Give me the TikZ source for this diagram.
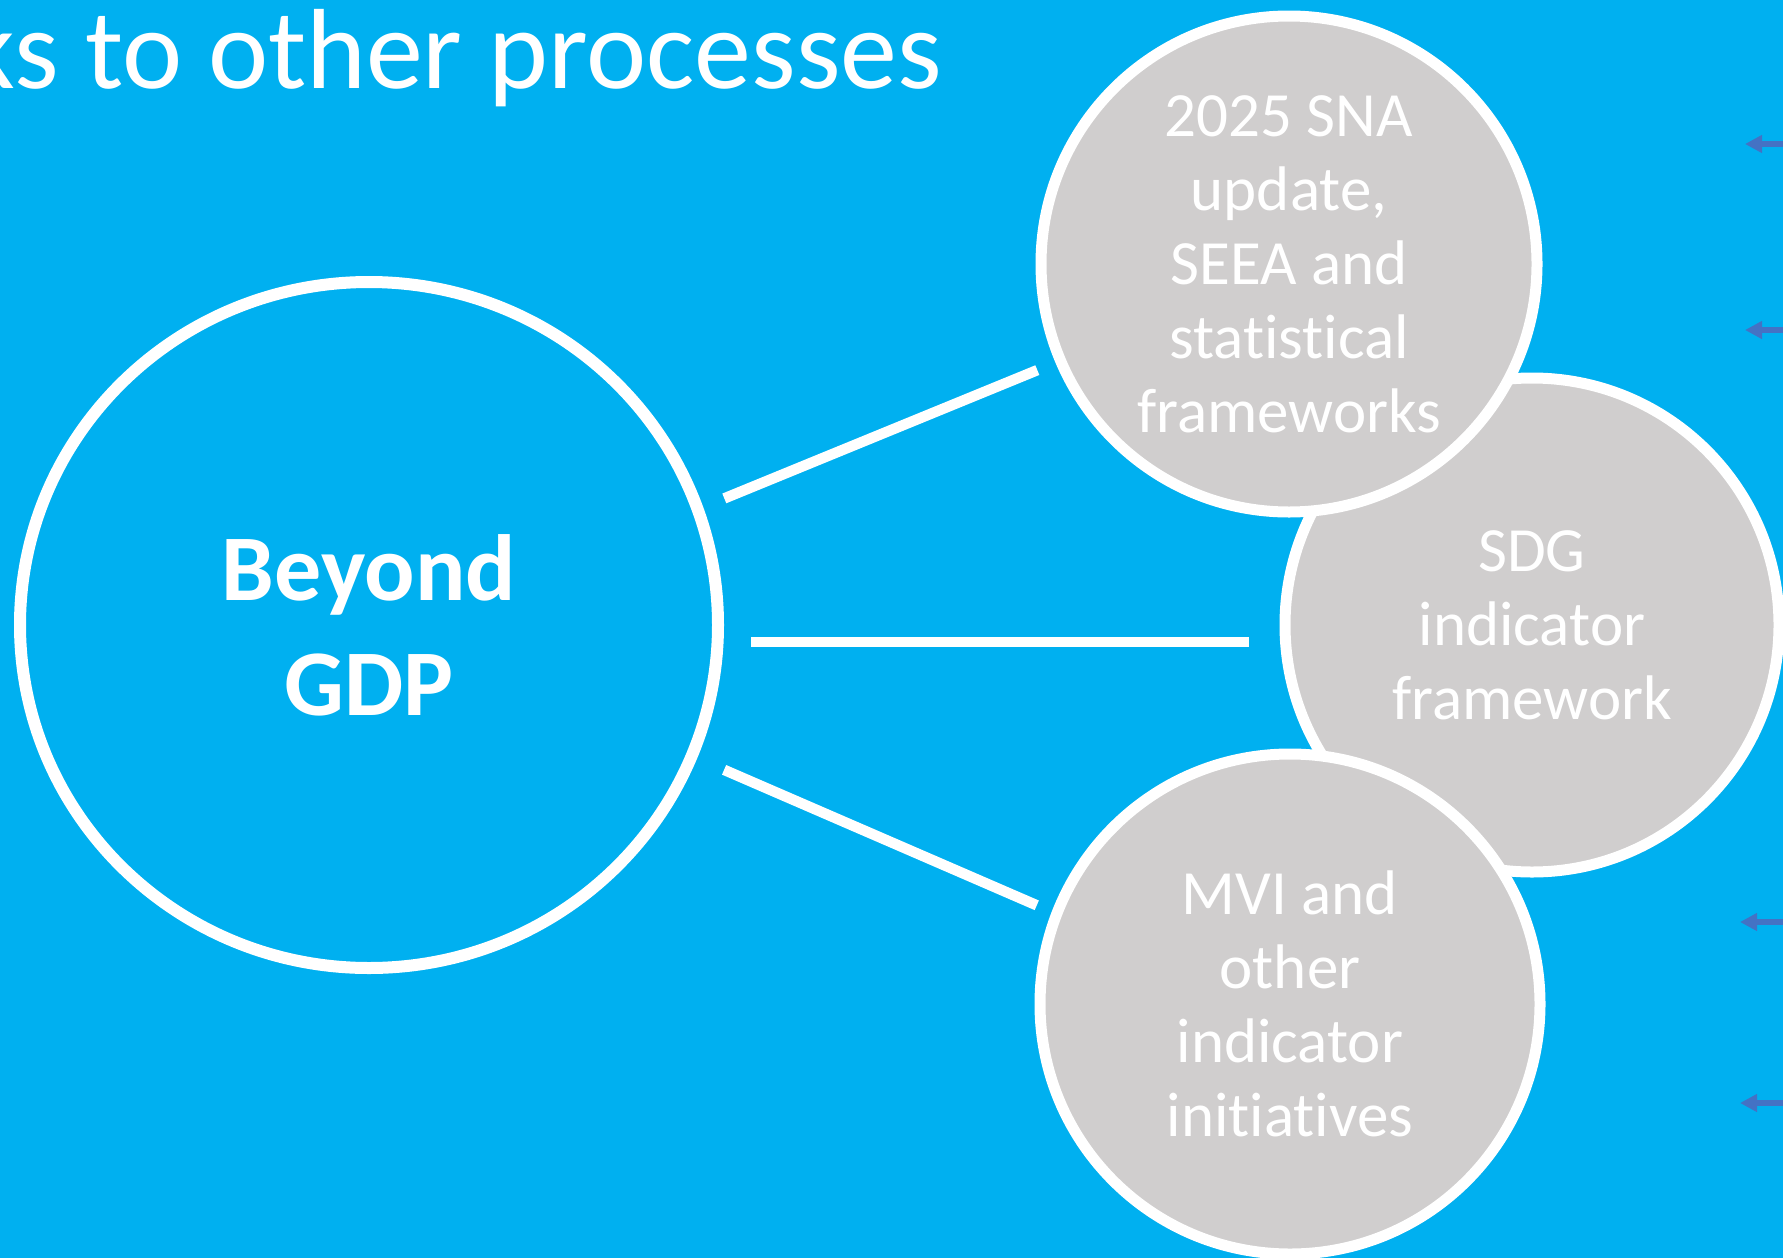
\documentclass[tikz,border=0pt]{standalone}
\usepackage{fontspec}
\setmainfont{Carlito}[Ligatures=NoCommon]
\usetikzlibrary{arrows.meta,shapes.geometric}
\definecolor{skyblue}{HTML}{00B0F0}
\definecolor{bubblegrey}{HTML}{D0CECE}
\definecolor{pointerblue}{HTML}{4472C4}

\begin{document}
\begin{tikzpicture}[x=1pt,y=-1pt,
  bubble/.style={circle,draw=white,line width=11pt,fill=bubblegrey,text=white,align=center,inner sep=0pt,font=\fontsize{63}{74}\selectfont},
  link/.style={draw=white,line width=10.5pt},
  pointer/.style={draw=pointerblue,line width=5.5pt,-{Triangle[length=17pt,width=17pt]}}] % slide background and bubbles

\useasboundingbox[fill=skyblue] (0,0) rectangle (1783,1258);

\node[anchor=base east,text=white,inner sep=0pt,font=\fontsize{114}{126}\selectfont] (title) at (942,88) {ks to other processes};

\node[ellipse,draw=white,line width=12pt,minimum width=698pt,minimum height=686pt,inner sep=0pt,text=white,align=center,font=\bfseries\fontsize{94}{115}\selectfont] (gdp) at (369,625) {Beyond\\GDP};

\node[bubble,minimum size=494pt] (sdg) at (1532,625) {SDG\\indicator\\framework};
\node[bubble,minimum size=496pt] (sna) at (1289,264) {2025 SNA\\update,\\SEEA and\\statistical\\frameworks};
\node[bubble,minimum size=500pt] (mvi) at (1290,1004) {MVI and\\other\\indicator\\initiatives};

\draw[link,shorten <=384pt,shorten >=272pt] ([yshift=-19pt]gdp.center) -- ([yshift=-3pt]sna.center);
\draw[link] ([xshift=27pt,yshift=-17pt]gdp.east) -- ([xshift=-31pt,yshift=-17pt]sdg.west);
\draw[link,shorten <=387pt,shorten >=276pt] ([yshift=9pt]gdp.center) -- ([yshift=-11pt]mvi.center);

\coordinate (p1) at (1800,144);  \coordinate (q1) at (1745,144);
\coordinate (p2) at (1800,330);  \coordinate (q2) at (1745,330);
\coordinate (p3) at (1800,922);  \coordinate (q3) at (1740,922);
\coordinate (p4) at (1800,1103); \coordinate (q4) at (1740,1103);
\draw[pointer] (p1) -- (q1);
\draw[pointer] (p2) -- (q2);
\draw[pointer] (p3) -- (q3);
\draw[pointer] (p4) -- (q4);

\end{tikzpicture}
\end{document}
